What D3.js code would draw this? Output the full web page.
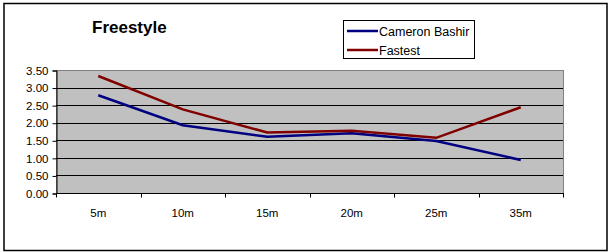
<!DOCTYPE html>
<html lang="en">
<head>
    <meta charset="UTF-8">
    <title>Freestyle</title>
    <style>
        body { margin: 0; background: #fff; }
        text { font-family: Arial, "Liberation Sans", sans-serif; fill: #000; }
    </style>
    <script src="https://d3js.org/d3.v7.min.js"></script>
</head>
<body>
    <svg width="609" height="252"></svg>
    <script>
        const categories = ['5m', '10m', '15m', '20m', '25m', '35m'];
        const cameron = [2.78, 1.93, 1.60, 1.70, 1.48, 0.94];
        const fastest = [3.33, 2.38, 1.72, 1.77, 1.57, 2.44];
        const yTicks = [0, 0.5, 1, 1.5, 2, 2.5, 3, 3.5];
        const series = [
            {name: 'Cameron Bashir', values: cameron, color: '#000080'},
            {name: 'Fastest', values: fastest, color: '#800000'}
        ];

        const svg = d3.select("svg");
        const plot = {left: 56, right: 563, top: 70, bottom: 193};

        // outer frame
        svg.append("rect")
            .attr("x", 4).attr("y", 3.5)
            .attr("width", 603).attr("height", 247)
            .attr("fill", "#fff").attr("stroke", "#000").attr("stroke-width", 1.5);

        const x = d3.scaleBand().domain(categories).range([plot.left, plot.right]);
        const y = d3.scaleLinear().domain([0, 3.5]).range([plot.bottom, plot.top]);

        // plot area
        svg.append("rect")
            .attr("x", plot.left + 0.5).attr("y", plot.top + 0.5)
            .attr("width", plot.right - plot.left).attr("height", plot.bottom - plot.top)
            .attr("fill", "#c0c0c0").attr("stroke", "#808080");

        // gridlines
        svg.selectAll(".grid")
            .data(yTicks.filter(v => v > 0 && v < 3.5))
            .enter().append("line")
            .attr("x1", plot.left).attr("x2", plot.right)
            .attr("y1", d => Math.round(y(d)) + 0.5).attr("y2", d => Math.round(y(d)) + 0.5)
            .attr("stroke", "#000");

        // y axis
        const yAxis = d3.axisLeft(y).tickValues(yTicks).tickFormat(d3.format(".2f")).tickSize(4).tickPadding(4);
        const gy = svg.append("g").attr("transform", `translate(${plot.left + 0.5},0.5)`).call(yAxis);
        gy.selectAll("text").style("font-size", "11.5px").style("font-family", "Arial, 'Liberation Sans', sans-serif");
        gy.select(".domain").attr("stroke", "#000");

        // x axis: ticks at category boundaries
        const gx = svg.append("g").attr("transform", `translate(0,${plot.bottom + 0.5})`);
        gx.append("line").attr("x1", plot.left).attr("x2", plot.right + 1).attr("stroke", "#000");
        const bounds = categories.map(c => x(c)).concat([plot.right]);
        gx.selectAll(".tk").data(bounds).enter().append("line")
            .attr("x1", d => Math.round(d) + 0.5).attr("x2", d => Math.round(d) + 0.5)
            .attr("y1", 0).attr("y2", 4).attr("stroke", "#000");
        gx.selectAll(".lbl").data(categories).enter().append("text")
            .attr("x", d => x(d) + x.bandwidth() / 2)
            .attr("y", 23)
            .attr("text-anchor", "middle")
            .style("font-size", "11.5px")
            .text(d => d);

        // lines
        const line = d3.line()
            .x((d, i) => x(categories[i]) + x.bandwidth() / 2)
            .y(d => y(d));
        svg.selectAll(".series")
            .data(series)
            .enter().append("path")
            .attr("d", d => line(d.values))
            .attr("fill", "none")
            .attr("stroke", d => d.color)
            .attr("stroke-width", 2.5);

        // title
        svg.append("text")
            .attr("x", 92).attr("y", 33)
            .style("font-size", "17px").style("font-weight", "bold")
            .text("Freestyle");

        // legend
        const lg = svg.append("g").attr("transform", "translate(343,20)");
        lg.append("rect").attr("x", 0.5).attr("y", 0.5).attr("width", 131).attr("height", 38)
            .attr("fill", "#fff").attr("stroke", "#000");
        const rows = lg.selectAll(".row").data(series).enter().append("g")
            .attr("transform", (d, i) => `translate(0,${11 + i * 19})`);
        rows.append("line").attr("x1", 4).attr("x2", 35).attr("y1", 0).attr("y2", 0)
            .attr("stroke", d => d.color).attr("stroke-width", 2.5);
        rows.append("text").attr("x", 36).attr("y", 4.5)
            .style("font-size", "12.5px").text(d => d.name);
    </script>
</body>
</html>
